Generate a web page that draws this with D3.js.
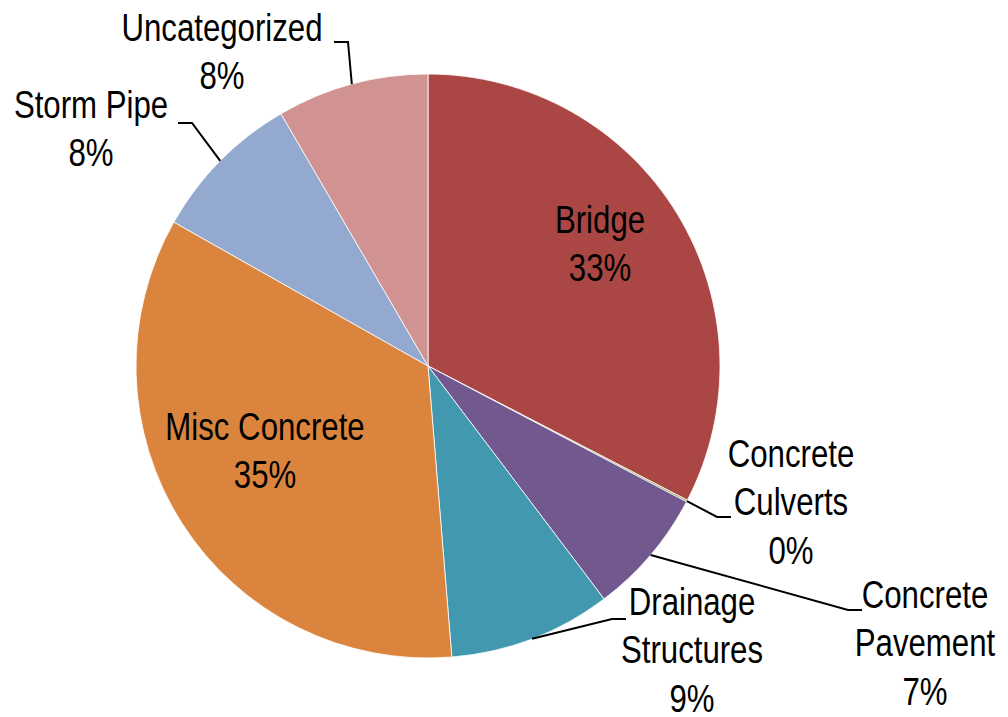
<head></head>
<body style="margin:0;background:#fff">
    <svg id="chart" width="1008" height="717"></svg>
    <script src="https://d3js.org/d3.v7.min.js"></script>
    <script>
        // slices, clockwise from 12 o'clock
        var categories = ["Bridge", "Concrete Culverts", "Concrete Pavement", "Drainage Structures", "Misc Concrete", "Storm Pipe", "Uncategorized"];
        var shares = [32.6, 0.1, 7.0, 9.0, 34.5, 8.4, 8.4];
        var labelLines = [["Bridge"], ["Concrete", "Culverts"], ["Concrete", "Pavement"], ["Drainage", "Structures"], ["Misc Concrete"], ["Storm Pipe"], ["Uncategorized"]];
        var colors = ["#AA4643", "#89A54E", "#71588F", "#4198AF", "#DB843D", "#93A9CF", "#D19392"];

        // label placement (hand placed like excel did it): center x, first baseline, leader end
        var layout = [
            {x: 600, y: 233},
            {x: 791, y: 467, lx: 717, ly: 517, dir: 1},
            {x: 925, y: 608, lx: 848, ly: 610, dir: 1},
            {x: 692, y: 615, lx: 612, ly: 619, dir: 1},
            {x: 265, y: 440},
            {x: 91, y: 118, lx: 192, ly: 123, dir: -1},
            {x: 222, y: 41, lx: 348, ly: 42, dir: -1}
        ];

        var cx = 428, cy = 366, R = 292, lineH = 48.5;
        var svg = d3.select('#chart');
        var g = svg.append("g").attr("transform", `translate(${cx},${cy})`);

        var pie = d3.pie().sort(null).value(d => d);
        var arcs = pie(shares);
        var arc = d3.arc().innerRadius(0).outerRadius(R);
        var edge = d3.arc().innerRadius(R).outerRadius(R);

        g.selectAll("path.slice").data(arcs).join("path")
            .attr("class", "slice")
            .attr("d", arc)
            .attr("fill", (d, i) => colors[i])
            .attr("stroke", "#fff")
            .attr("stroke-width", 0.8);

        // leader lines for outside labels
        arcs.forEach(function(d, i){
            var L = layout[i];
            if(L.lx === undefined) return;
            var p = edge.centroid(d);
            var pts = [[p[0] + cx, p[1] + cy], [L.lx, L.ly], [L.lx + L.dir * 14, L.ly]];
            svg.append("path")
                .attr("d", d3.line()(pts))
                .attr("fill", "none")
                .attr("stroke", "#000")
                .attr("stroke-width", 2);
        });

        // condensed look: liberation sans squeezed horizontally
        var labels = svg.append("g")
            .attr("font-family", "'Liberation Sans', Arial, sans-serif")
            .attr("font-size", 39)
            .attr("text-anchor", "middle")
            .attr("fill", "#000");

        categories.forEach(function(c, i){
            var L = layout[i];
            var lines = labelLines[i].concat([Math.round(shares[i]) + "%"]);
            var t = labels.append("text").attr("transform", `translate(${L.x},${L.y}) scale(0.8,1)`);
            lines.forEach(function(s, k){
                t.append("tspan").attr("x", 0).attr("y", k * lineH).text(s);
            });
        });
    </script>
</body>
